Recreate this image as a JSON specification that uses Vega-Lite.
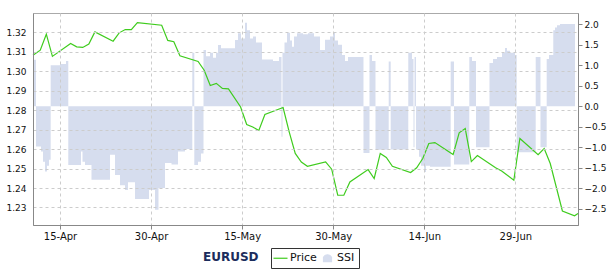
{
  "$schema": "https://vega.github.io/schema/vega-lite/v6.json",
  "width": 545,
  "height": 212,
  "autosize": {"type": "none"},
  "padding": {"left": 33, "top": 13, "right": 32, "bottom": 50},
  "background": "white",
  "config": {
    "font": "DejaVu Sans",
    "view": {"stroke": "#aaaaaa", "strokeWidth": 1}
  },
  "title": {
    "text": "EURUSD",
    "orient": "bottom",
    "anchor": "start",
    "frame": "group",
    "dx": 170,
    "offset": -17,
    "fontSize": 12,
    "fontWeight": "bold",
    "font": "DejaVu Sans",
    "color": "#1b2c5c"
  },
  "datasets": {
    "price": [
      {"t": "2012-04-10T13:18", "price": 1.3083},
      {"t": "2012-04-11T18:00", "price": 1.3109},
      {"t": "2012-04-12T18:00", "price": 1.3191},
      {"t": "2012-04-13T18:00", "price": 1.3077},
      {"t": "2012-04-16T18:00", "price": 1.3143},
      {"t": "2012-04-17T18:00", "price": 1.3126},
      {"t": "2012-04-18T18:00", "price": 1.3123},
      {"t": "2012-04-19T18:00", "price": 1.3140},
      {"t": "2012-04-20T18:00", "price": 1.3203},
      {"t": "2012-04-23T18:00", "price": 1.3155},
      {"t": "2012-04-24T18:00", "price": 1.3198},
      {"t": "2012-04-25T18:00", "price": 1.3215},
      {"t": "2012-04-26T18:00", "price": 1.3215},
      {"t": "2012-04-27T18:00", "price": 1.3251},
      {"t": "2012-05-01T18:00", "price": 1.3237},
      {"t": "2012-05-02T18:00", "price": 1.3159},
      {"t": "2012-05-03T18:00", "price": 1.3152},
      {"t": "2012-05-04T18:00", "price": 1.3080},
      {"t": "2012-05-07T18:00", "price": 1.3051},
      {"t": "2012-05-08T18:00", "price": 1.3006},
      {"t": "2012-05-09T18:00", "price": 1.2927},
      {"t": "2012-05-10T18:00", "price": 1.2938},
      {"t": "2012-05-11T18:00", "price": 1.2912},
      {"t": "2012-05-12T18:00", "price": 1.2910},
      {"t": "2012-05-14T18:00", "price": 1.2817},
      {"t": "2012-05-15T18:00", "price": 1.2727},
      {"t": "2012-05-16T18:00", "price": 1.2714},
      {"t": "2012-05-17T18:00", "price": 1.2696},
      {"t": "2012-05-18T18:00", "price": 1.2778},
      {"t": "2012-05-21T18:00", "price": 1.2814},
      {"t": "2012-05-22T18:00", "price": 1.2689},
      {"t": "2012-05-23T18:00", "price": 1.2578},
      {"t": "2012-05-24T18:00", "price": 1.2534},
      {"t": "2012-05-25T18:00", "price": 1.2512},
      {"t": "2012-05-28T18:00", "price": 1.2534},
      {"t": "2012-05-29T18:00", "price": 1.2497},
      {"t": "2012-05-30T18:00", "price": 1.2363},
      {"t": "2012-05-31T18:00", "price": 1.2363},
      {"t": "2012-06-01T18:00", "price": 1.2431},
      {"t": "2012-06-04T18:00", "price": 1.2495},
      {"t": "2012-06-05T18:00", "price": 1.2449},
      {"t": "2012-06-06T18:00", "price": 1.2578},
      {"t": "2012-06-07T18:00", "price": 1.2557},
      {"t": "2012-06-08T18:00", "price": 1.2512},
      {"t": "2012-06-11T18:00", "price": 1.2480},
      {"t": "2012-06-12T18:00", "price": 1.2504},
      {"t": "2012-06-13T18:00", "price": 1.2552},
      {"t": "2012-06-14T18:00", "price": 1.2629},
      {"t": "2012-06-15T18:00", "price": 1.2634},
      {"t": "2012-06-18T18:00", "price": 1.2572},
      {"t": "2012-06-19T18:00", "price": 1.2684},
      {"t": "2012-06-20T18:00", "price": 1.2706},
      {"t": "2012-06-21T18:00", "price": 1.2536},
      {"t": "2012-06-22T18:00", "price": 1.2567},
      {"t": "2012-06-25T18:00", "price": 1.2504},
      {"t": "2012-06-26T18:00", "price": 1.2488},
      {"t": "2012-06-28T18:00", "price": 1.2440},
      {"t": "2012-06-29T18:00", "price": 1.2655},
      {"t": "2012-07-02T18:00", "price": 1.2572},
      {"t": "2012-07-03T18:00", "price": 1.2603},
      {"t": "2012-07-04T18:00", "price": 1.2526},
      {"t": "2012-07-06T18:00", "price": 1.2282},
      {"t": "2012-07-08T18:00", "price": 1.2257},
      {"t": "2012-07-09T07:42", "price": 1.2269}
    ],
    "ssi": [
      {"t": "2012-04-10T13:18", "ssi": 1.13},
      {"t": "2012-04-11T01:06", "ssi": -0.98},
      {"t": "2012-04-11T20:54", "ssi": -1.10},
      {"t": "2012-04-12T04:48", "ssi": -1.35},
      {"t": "2012-04-12T12:42", "ssi": -1.59},
      {"t": "2012-04-12T20:36", "ssi": -1.45},
      {"t": "2012-04-13T04:30", "ssi": -1.30},
      {"t": "2012-04-13T11:12", "ssi": 1.00},
      {"t": "2012-04-15T00:00", "ssi": 1.03},
      {"t": "2012-04-15T23:42", "ssi": 1.10},
      {"t": "2012-04-16T08:48", "ssi": -1.43},
      {"t": "2012-04-18T11:00", "ssi": -1.10},
      {"t": "2012-04-18T17:00", "ssi": -1.35},
      {"t": "2012-04-19T02:50", "ssi": -1.43},
      {"t": "2012-04-20T04:30", "ssi": -1.79},
      {"t": "2012-04-23T05:40", "ssi": -1.18},
      {"t": "2012-04-24T01:25", "ssi": -1.67},
      {"t": "2012-04-24T21:10", "ssi": -1.92},
      {"t": "2012-04-25T16:55", "ssi": -2.04},
      {"t": "2012-04-26T04:48", "ssi": -1.85},
      {"t": "2012-04-27T08:30", "ssi": -2.26},
      {"t": "2012-04-29T15:50", "ssi": -2.04},
      {"t": "2012-04-30T15:30", "ssi": -2.52},
      {"t": "2012-05-01T05:24", "ssi": -1.99},
      {"t": "2012-05-02T07:06", "ssi": -1.38},
      {"t": "2012-05-03T08:48", "ssi": -1.42},
      {"t": "2012-05-04T10:30", "ssi": -1.10},
      {"t": "2012-05-05T14:06", "ssi": -1.04},
      {"t": "2012-05-06T19:00", "ssi": 1.30},
      {"t": "2012-05-07T02:54", "ssi": -1.43},
      {"t": "2012-05-07T17:30", "ssi": -1.35},
      {"t": "2012-05-08T05:24", "ssi": -1.15},
      {"t": "2012-05-08T15:18", "ssi": 1.37},
      {"t": "2012-05-09T01:06", "ssi": 1.22},
      {"t": "2012-05-09T17:00", "ssi": 1.30},
      {"t": "2012-05-10T04:48", "ssi": 1.18},
      {"t": "2012-05-10T16:42", "ssi": 1.30},
      {"t": "2012-05-11T00:36", "ssi": 1.49},
      {"t": "2012-05-11T12:24", "ssi": 1.41},
      {"t": "2012-05-13T19:48", "ssi": 1.61},
      {"t": "2012-05-14T07:36", "ssi": 1.78},
      {"t": "2012-05-14T19:30", "ssi": 1.65},
      {"t": "2012-05-15T11:18", "ssi": 2.03},
      {"t": "2012-05-15T19:12", "ssi": 1.85},
      {"t": "2012-05-16T07:06", "ssi": 1.65},
      {"t": "2012-05-16T18:54", "ssi": 1.70},
      {"t": "2012-05-17T06:48", "ssi": 1.55},
      {"t": "2012-05-18T06:30", "ssi": 1.14},
      {"t": "2012-05-20T02:00", "ssi": 1.10},
      {"t": "2012-05-21T01:42", "ssi": 1.20},
      {"t": "2012-05-21T11:36", "ssi": -0.74},
      {"t": "2012-05-21T15:30", "ssi": 1.30},
      {"t": "2012-05-21T23:30", "ssi": 1.55},
      {"t": "2012-05-22T09:18", "ssi": 1.79},
      {"t": "2012-05-22T21:12", "ssi": 1.60},
      {"t": "2012-05-23T05:06", "ssi": 1.45},
      {"t": "2012-05-23T13:00", "ssi": 1.70},
      {"t": "2012-05-24T00:54", "ssi": 1.78},
      {"t": "2012-05-25T00:36", "ssi": 1.75},
      {"t": "2012-05-25T20:18", "ssi": 1.78},
      {"t": "2012-05-26T20:06", "ssi": 1.70},
      {"t": "2012-05-27T19:48", "ssi": 1.37},
      {"t": "2012-05-28T15:30", "ssi": 1.62},
      {"t": "2012-05-29T11:18", "ssi": 1.70},
      {"t": "2012-05-29T23:12", "ssi": 1.80},
      {"t": "2012-05-30T07:06", "ssi": 1.60},
      {"t": "2012-05-30T18:54", "ssi": 1.50},
      {"t": "2012-05-31T10:42", "ssi": 1.25},
      {"t": "2012-05-31T22:36", "ssi": 1.10},
      {"t": "2012-06-01T10:30", "ssi": 1.20},
      {"t": "2012-06-03T23:42", "ssi": -1.14},
      {"t": "2012-06-04T23:30", "ssi": 1.25},
      {"t": "2012-06-05T09:18", "ssi": 1.10},
      {"t": "2012-06-05T23:12", "ssi": -1.06},
      {"t": "2012-06-08T03:24", "ssi": 1.09},
      {"t": "2012-06-08T11:18", "ssi": -1.05},
      {"t": "2012-06-11T08:48", "ssi": 1.30},
      {"t": "2012-06-11T23:30", "ssi": 1.15},
      {"t": "2012-06-12T05:24", "ssi": -1.00},
      {"t": "2012-06-12T09:24", "ssi": 1.20},
      {"t": "2012-06-12T15:18", "ssi": -1.05},
      {"t": "2012-06-13T03:06", "ssi": -1.23},
      {"t": "2012-06-13T11:00", "ssi": -1.45},
      {"t": "2012-06-13T22:54", "ssi": -1.60},
      {"t": "2012-06-14T06:48", "ssi": -1.45},
      {"t": "2012-06-14T22:36", "ssi": -1.47},
      {"t": "2012-06-18T08:24", "ssi": 1.09},
      {"t": "2012-06-18T21:30", "ssi": -1.42},
      {"t": "2012-06-21T10:00", "ssi": 1.20},
      {"t": "2012-06-21T20:36", "ssi": 1.10},
      {"t": "2012-06-22T12:24", "ssi": -1.00},
      {"t": "2012-06-24T17:48", "ssi": 1.05},
      {"t": "2012-06-25T07:36", "ssi": 1.15},
      {"t": "2012-06-25T23:30", "ssi": 1.20},
      {"t": "2012-06-26T19:12", "ssi": 1.30},
      {"t": "2012-06-27T07:06", "ssi": 1.42},
      {"t": "2012-06-27T15:00", "ssi": 1.35},
      {"t": "2012-06-28T02:54", "ssi": 1.30},
      {"t": "2012-06-28T22:36", "ssi": 1.25},
      {"t": "2012-06-29T05:18", "ssi": -1.12},
      {"t": "2012-07-02T08:30", "ssi": 1.20},
      {"t": "2012-07-03T03:24", "ssi": -1.00},
      {"t": "2012-07-04T03:54", "ssi": 1.15},
      {"t": "2012-07-04T13:00", "ssi": 1.25},
      {"t": "2012-07-05T06:00", "ssi": 1.85},
      {"t": "2012-07-05T12:42", "ssi": 1.92},
      {"t": "2012-07-05T20:36", "ssi": 1.97},
      {"t": "2012-07-06T08:30", "ssi": 2.00},
      {"t": "2012-07-08T19:48", "ssi": 2.00}
    ]
  },
  "layer": [
    {
      "data": {"name": "ssi"},
      "mark": {"type": "area", "interpolate": "step-after"},
      "encoding": {
        "x": {
          "field": "t",
          "type": "temporal",
          "scale": {"domain": [
            {"year": 2012, "month": 4, "date": 10, "hours": 13, "minutes": 18},
            {"year": 2012, "month": 7, "date": 9, "hours": 7, "minutes": 42}
          ]},
          "axis": {
            "values": [
              {"year": 2012, "month": 4, "date": 15},
              {"year": 2012, "month": 4, "date": 30},
              {"year": 2012, "month": 5, "date": 15},
              {"year": 2012, "month": 5, "date": 30},
              {"year": 2012, "month": 6, "date": 14},
              {"year": 2012, "month": 6, "date": 29}
            ],
            "format": "%d-%b",
            "title": null,
            "labelFontSize": 10,
            "labelColor": "#111111",
            "tickSize": 4,
            "tickColor": "#888888",
            "domainColor": "#888888",
            "labelPadding": 2,
            "grid": true,
            "gridColor": "#cccccc",
            "gridDash": [3, 3],
            "zindex": 1
          }
        },
        "y": {
          "field": "ssi",
          "type": "quantitative",
          "scale": {"domain": [-2.89, 2.27], "nice": false, "zero": false},
          "axis": {
            "orient": "right",
            "values": [-2.5, -2, -1.5, -1, -0.5, 0, 0.5, 1, 1.5, 2],
            "format": ".1f",
            "title": null,
            "labelFontSize": 9,
            "labelColor": "#111111",
            "tickSize": 4,
            "tickColor": "#888888",
            "domainColor": "#888888",
            "labelPadding": 2,
            "grid": false
          }
        },
        "y2": {"datum": 0},
        "color": {
          "datum": "SSI",
          "type": "nominal",
          "scale": {"domain": ["Price", "SSI"], "range": ["#3fcc1e", "#d6ddee"]},
          "legend": {
            "orient": "none",
            "legendX": 238,
            "legendY": 235,
            "direction": "horizontal",
            "title": null,
            "strokeColor": "#333333",
            "padding": 4,
            "labelFontSize": 11,
            "labelFont": "DejaVu Sans",
            "labelColor": "#111111",
            "columnPadding": 4,
            "labelOffset": 4,
            "symbolSize": 196,
            "encode": {
              "symbols": {
                "update": {
                  "shape": {"signal": "datum.value === 'Price' ? 'stroke' : 'M-1,1L-1,-0.1C-0.6,-0.9 0.6,-0.9 1,-0.1L1,1Z'"},
                  "size": {"signal": "datum.value === 'Price' ? 196 : 64"},
                  "fill": {"signal": "datum.value === 'Price' ? 'transparent' : '#d6ddee'"},
                  "stroke": {"signal": "datum.value === 'Price' ? '#3fcc1e' : 'transparent'"},
                  "strokeWidth": {"value": 1.2},
                  "opacity": {"value": 1}
                }
              }
            }
          }
        }
      }
    },
    {
      "data": {"name": "price"},
      "mark": {"type": "line", "strokeWidth": 1.2},
      "encoding": {
        "x": {
          "field": "t",
          "type": "temporal",
          "scale": {"domain": [
            {"year": 2012, "month": 4, "date": 10, "hours": 13, "minutes": 18},
            {"year": 2012, "month": 7, "date": 9, "hours": 7, "minutes": 42}
          ]}
        },
        "y": {
          "field": "price",
          "type": "quantitative",
          "scale": {"domain": [1.221, 1.33], "nice": false, "zero": false},
          "axis": {
            "orient": "left",
            "values": [1.23, 1.24, 1.25, 1.26, 1.27, 1.28, 1.29, 1.3, 1.31, 1.32],
            "format": ".2f",
            "title": null,
            "labelFontSize": 9,
            "labelColor": "#111111",
            "ticks": false,
            "tickSize": 0,
            "labelPadding": 7,
            "domainColor": "#888888",
            "grid": true,
            "gridColor": "#cccccc",
            "gridDash": [3, 3],
            "zindex": 1
          }
        },
        "color": {"datum": "Price", "type": "nominal"}
      }
    }
  ],
  "resolve": {"scale": {"y": "independent"}, "axis": {"y": "independent"}}
}
